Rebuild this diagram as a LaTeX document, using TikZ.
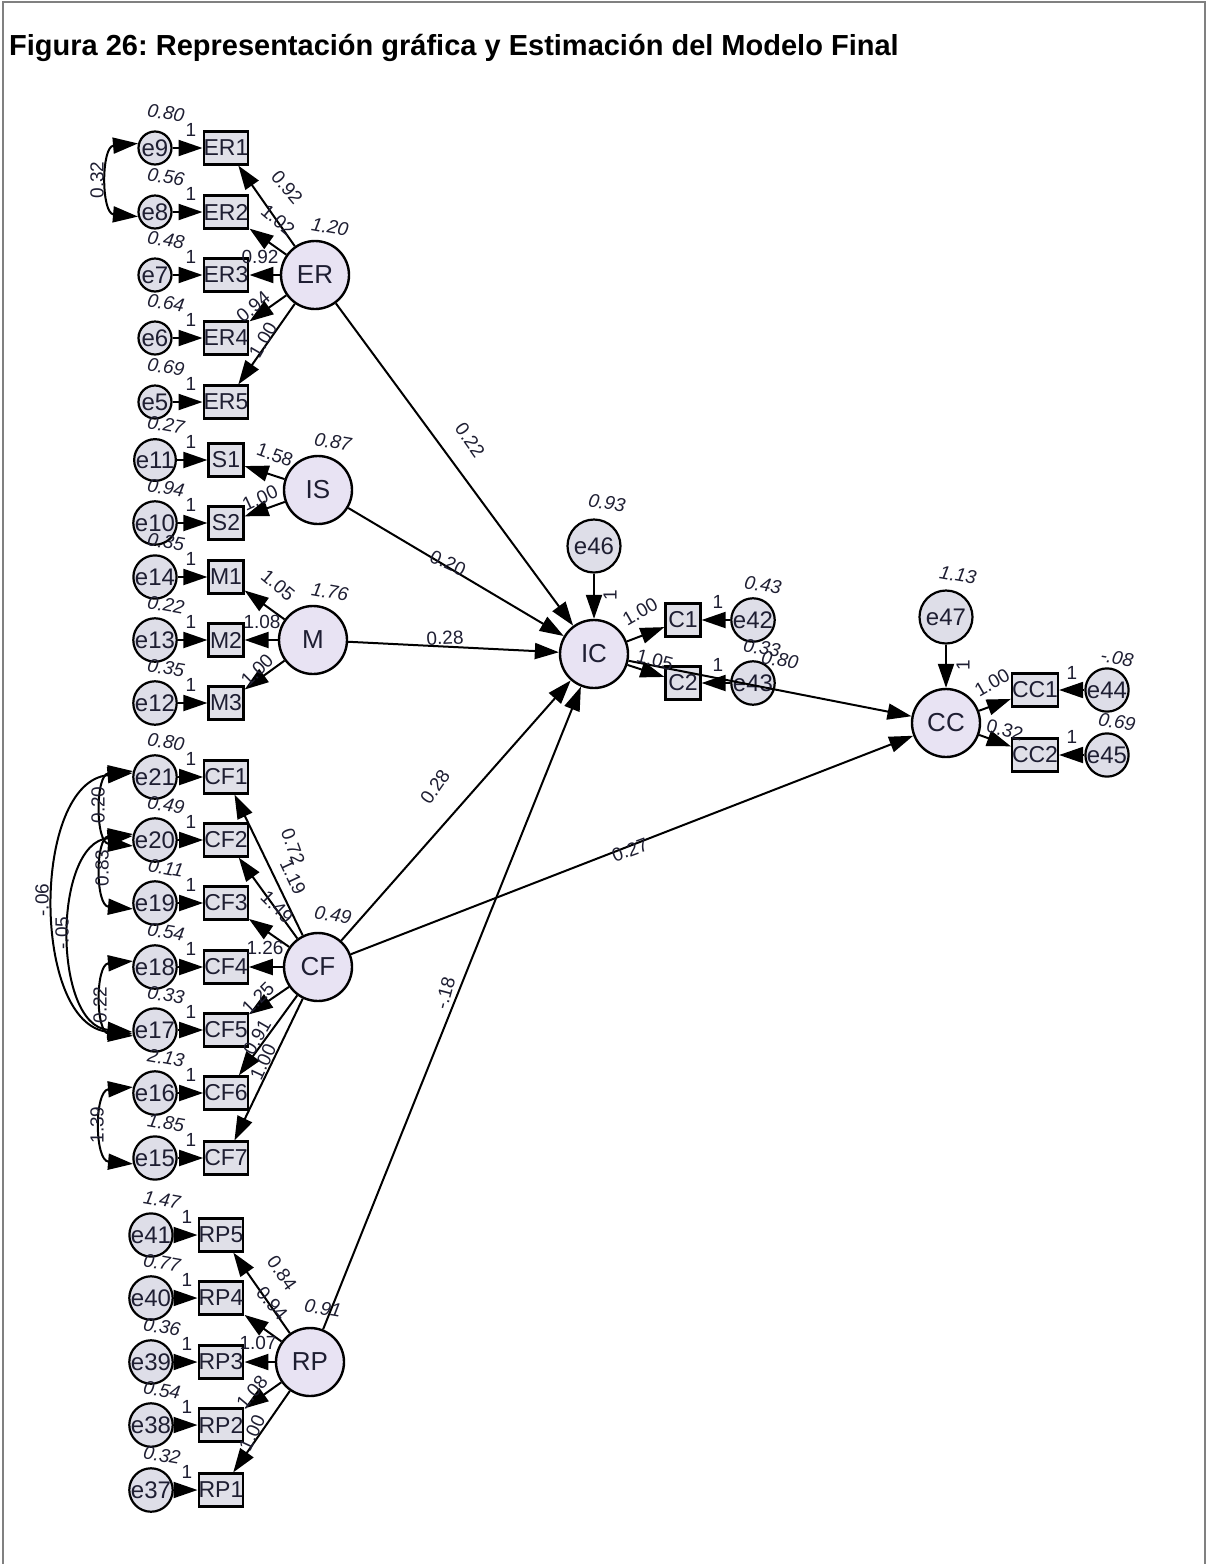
\documentclass[tikz,border=0pt]{standalone}
\usepackage{fontspec}
\setmainfont{Liberation Sans}
\usetikzlibrary{arrows.meta,calc}
\definecolor{latfill}{RGB}{232,227,243}
\definecolor{errfill}{RGB}{222,222,232}
\definecolor{boxfill}{RGB}{224,224,232}
\definecolor{ink}{RGB}{30,30,50}
\definecolor{framegray}{RGB}{128,128,128}
\frenchspacing
\begin{document}
\begin{tikzpicture}[x=1pt,y=-1pt,
  lat/.style={circle,draw=black,line width=2.4pt,fill=latfill,minimum size=68pt,inner sep=0pt,text=ink,font=\fontsize{26}{28}\selectfont},
  errc/.style={circle,draw=black,line width=2.2pt,fill=errfill,minimum size=33pt,inner sep=0pt,text=ink,font=\fontsize{24}{26}\selectfont},
  errbig/.style={errc,minimum size=53pt},
  ind/.style={rectangle,draw=black,line width=2.2pt,fill=boxfill,minimum width=35pt,minimum height=33pt,inner sep=0pt,text=ink,font=\fontsize{23}{25}\selectfont},
  arr/.style={line width=2pt,-{Triangle[length=24pt,width=16pt]}},
  covarr/.style={line width=2pt,{Triangle[length=25pt,width=16pt]}-{Triangle[length=25pt,width=16pt]}},
  var/.style={font=\itshape\fontsize{19}{21}\selectfont,text=ink,inner sep=0pt,rotate=-10},
  one/.style={font=\fontsize{19}{21}\selectfont,text=ink,inner sep=0pt},
  coef/.style={font=\fontsize{19}{21}\selectfont,text=ink,inner sep=0pt},
  covl/.style={font=\fontsize{19}{21}\selectfont,text=ink,inner sep=0pt,rotate=90}
]
\useasboundingbox (0,0) rectangle (1207,1564);
% frame
\draw[framegray,line width=1.5pt] (3,1564) -- (3,2) -- (1205,2) -- (1205,1564);
% title
\node[anchor=west,inner sep=0pt,font=\bfseries\fontsize{29}{31}\selectfont] (title) at (9,48) {Figura 26: Representación gráfica y Estimación del Modelo Final};

% latent variables
\node[lat] (ER) at (315,275) {ER};
\node[lat] (IS) at (318,490) {IS};
\node[lat] (M) at (313,640) {M};
\node[lat] (CF) at (318,967) {CF};
\node[lat] (RP) at (310,1362) {RP};
\node[lat] (IC) at (594,654) {IC};
\node[lat] (CC) at (946,723) {CC};

% indicator rows: error, box, y, variance
\foreach \e/\b/\y/\v in {e9/ER1/148/0.80,e8/ER2/212/0.56,e7/ER3/275/0.48,e6/ER4/338/0.64,e5/ER5/402/0.69,
  e11/S1/460/0.27,e10/S2/523/0.94,e14/M1/577/0.35,e13/M2/640/0.22,e12/M3/703/0.35,
  e21/CF1/777/0.80,e20/CF2/840/0.49,e19/CF3/903/0.11,e18/CF4/967/0.54,e17/CF5/1030/0.33,e16/CF6/1093/2.13,e15/CF7/1158/1.85}{
  \node[var] at (166,\y-35) {\v};
  \node[one] at (191,\y-18) {1};
  \node[errc] (\e) at (155,\y) {\e};
  \node[ind] (\b) at (226,\y) {\b};
  \draw[arr] (\e) -- (\b);
}
\foreach \e/\b/\y/\v in {e41/RP5/1235/1.47,e40/RP4/1298/0.77,e39/RP3/1362/0.36,e38/RP2/1425/0.54,e37/RP1/1490/0.32}{
  \node[var] at (162,\y-35) {\v};
  \node[one] at (187,\y-18) {1};
  \node[errc] (\e) at (151,\y) {\e};
  \node[ind] (\b) at (221,\y) {\b};
  \draw[arr] (\e) -- (\b);
}

% loadings
\foreach \b in {ER1,ER2,ER3,ER4,ER5} \draw[arr] (ER) -- (\b);
\foreach \b in {S1,S2} \draw[arr] (IS) -- (\b);
\foreach \b in {M1,M2,M3} \draw[arr] (M) -- (\b);
\foreach \b in {CF1,CF2,CF3,CF4,CF5,CF6,CF7} \draw[arr] (CF) -- (\b);
\foreach \b in {RP5,RP4,RP3,RP2,RP1} \draw[arr] (RP) -- (\b);

% covariances
\draw[covarr] (e9.165) to[out=185,in=175,looseness=1.3] (e8.195);
\draw[covarr] (e21.165) to[out=185,in=175,looseness=1.3] (e20.195);
\draw[covarr] (e20.165) to[out=185,in=175,looseness=1.3] (e19.195);
\draw[covarr] (e18.165) to[out=185,in=175,looseness=1.3] (e17.195);
\draw[covarr] (e16.165) to[out=185,in=175,looseness=1.3] (e15.195);
\draw[covarr] (e21.170) to[out=185,in=175,looseness=1.0] (e17.190);
\draw[covarr] (e20.170) to[out=185,in=175,looseness=1.05] (e17.185);

% structural part
\node[errbig] (e46) at (594,546) {e46};
\node[errbig] (e47) at (946,617) {e47};
\node[ind] (C1) at (683,620) {C1};
\node[ind] (C2) at (683,683) {C2};
\node[errc] (e42) at (753,620) {e42};
\node[errc] (e43) at (753,683) {e43};
\node[ind] (CC1) at (1035,690) {CC1};
\node[ind] (CC2) at (1035,755) {CC2};
\node[errc] (e44) at (1107,690) {e44};
\node[errc] (e45) at (1107,755) {e45};

\draw[arr] (ER) -- (IC);
\draw[arr] (IS) -- (IC);
\draw[arr] (M) -- (IC);
\draw[arr] (CF) -- (IC);
\draw[arr] (RP) -- (IC);
\draw[arr] (CF) -- (CC);
\draw[arr] (IC) -- (CC);
\draw[arr] (e46) -- (IC);
\draw[arr] (e47) -- (CC);
\draw[arr] (IC) -- (C1);
\draw[arr] (IC) -- (C2);
\draw[arr] (e42) -- (C1);
\draw[arr] (e43) -- (C2);
\draw[arr] (CC) -- (CC1);
\draw[arr] (CC) -- (CC2);
\draw[arr] (e44) -- (CC1);
\draw[arr] (e45) -- (CC2);

% latent variances
\node[var] at (330,227) {1.20};
\node[var] at (333,442) {0.87};
\node[var] at (330,592) {1.76};
\node[var] at (333,915) {0.49};
\node[var] at (323,1308) {0.91};
\node[var] at (607,503) {0.93};
\node[var] at (958,575) {1.13};
\node[var] at (763,585) {0.43};
\node[var] at (762,648) {0.33};
\node[var] at (1117,658) {-.08};
\node[var] at (1117,722) {0.69};

% loading labels
\node[coef,rotate=-50] at (287,187) {0.92};
\node[coef,rotate=-40] at (278,220) {1.02};
\node[coef] at (260,257) {0.92};
\node[coef,rotate=40] at (253,307) {0.94};
\node[coef,rotate=60] at (263,340) {1.00};
\node[coef,rotate=-20] at (275,455) {1.58};
\node[coef,rotate=25] at (260,498) {1.00};
\node[coef,rotate=-40] at (278,585) {1.05};
\node[coef] at (262,622) {1.08};
\node[coef,rotate=45] at (257,670) {1.00};
\node[coef,rotate=-70] at (293,847) {0.72};
\node[coef,rotate=-65] at (293,877) {1.19};
\node[coef,rotate=-45] at (277,907) {1.49};
\node[coef] at (265,948) {1.26};
\node[coef,rotate=45] at (258,998) {1.25};
\node[coef,rotate=60] at (257,1037) {0.91};
\node[coef,rotate=65] at (263,1062) {1.00};
\node[coef,rotate=-55] at (282,1273) {0.84};
\node[coef,rotate=-50] at (272,1303) {0.94};
\node[coef] at (258,1343) {1.07};
\node[coef,rotate=50] at (252,1392) {1.08};
\node[coef,rotate=65] at (252,1433) {1.00};
% structural labels
\node[coef,rotate=-55] at (470,440) {0.22};
\node[coef,rotate=-25] at (448,563) {0.20};
\node[coef,rotate=3] at (445,638) {0.28};
\node[coef,rotate=55] at (435,787) {0.28};
\node[coef,rotate=20] at (630,850) {0.27};
\node[coef,rotate=75] at (445,993) {-.18};
\node[var] at (780,660) {0.80};
\node[coef,rotate=30] at (640,612) {1.00};
\node[coef,rotate=-15] at (655,660) {1.05};
\node[coef,rotate=30] at (992,683) {1.00};
\node[coef,rotate=-15] at (1005,730) {0.32};
\node[one] at (718,602) {1};
\node[one] at (718,665) {1};
\node[one] at (1072,673) {1};
\node[one] at (1072,737) {1};
\node[one,rotate=90] at (610,595) {1};
\node[one,rotate=90] at (963,665) {1};
% covariance labels
\node[covl] at (97,180) {0.32};
\node[covl] at (98,805) {0.20};
\node[covl] at (102,868) {0.83};
\node[covl] at (42,900) {-.06};
\node[covl] at (62,933) {-.05};
\node[covl] at (100,1005) {0.22};
\node[covl] at (97,1125) {1.39};
\end{tikzpicture}
\end{document}
